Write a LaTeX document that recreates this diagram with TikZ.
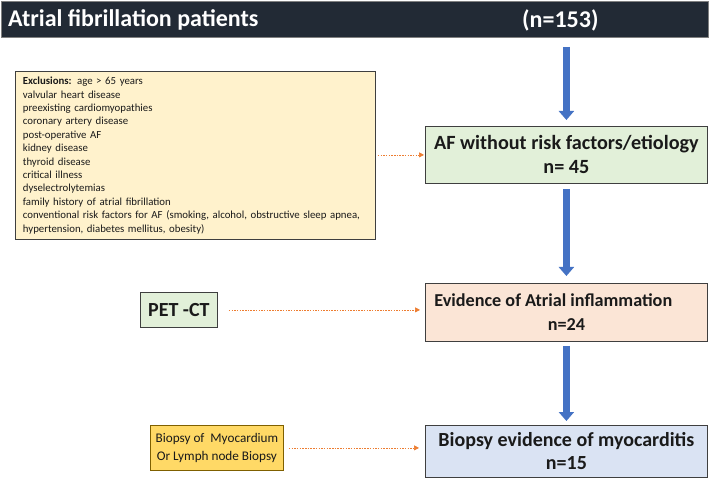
\documentclass[tikz,border=0pt]{standalone}
\usepackage{fontspec}
\setmainfont{Carlito}
\usetikzlibrary{arrows.meta}
\definecolor{barfill}{HTML}{222A35}
\definecolor{excfill}{HTML}{FFF2CC}
\definecolor{grnfill}{HTML}{E2F0D9}
\definecolor{pchfill}{HTML}{FBE5D6}
\definecolor{blufill}{HTML}{DAE3F3}
\definecolor{ylwfill}{HTML}{FFD966}
\definecolor{ylwdraw}{HTML}{7F6000}
\definecolor{arrblue}{HTML}{4472C4}
\definecolor{dotorange}{HTML}{ED7D31}
\definecolor{txt}{HTML}{1A1A1A}
\definecolor{boxdraw}{HTML}{3F3F3F}
\tikzset{
  flowbox/.style={draw=boxdraw, line width=0.8bp, text=txt, align=center, inner sep=0pt, anchor=north west},
  bigarrow/.style={draw=arrblue, line width=6.5bp, -{Triangle[width=15bp,length=9bp]}},
  dotarrow/.style={draw=dotorange, line width=0.7bp, dash pattern=on 1.5bp off 1.2bp, -{Triangle[width=5bp,length=5bp]}}
}
\begin{document}
\begin{tikzpicture}[x=1bp,y=-1bp]
\useasboundingbox (0,0) rectangle (709,480);
\fill[white] (0,0) rectangle (709,480);
% top bar
\node[draw=gray, fill=barfill, line width=1bp, minimum width=707bp, minimum height=36bp, inner sep=0pt, anchor=north west] (bar) at (1,1) {};
\node[text=white, font=\fontsize{24bp}{28bp}\selectfont\bfseries, anchor=west, inner sep=0pt] (bartitle) at (8,20) {Atrial fibrillation patients};
\node[text=white, font=\fontsize{24bp}{28bp}\selectfont\bfseries, anchor=west, inner sep=0pt] (barn) at (522,20) {(n=153)};
% exclusions
\node[draw=boxdraw, fill=excfill, line width=0.8bp, anchor=north west, minimum width=356bp, minimum height=168bp, text width=345bp, inner xsep=7.5bp, inner ysep=0pt, align=left, text=txt, font=\fontsize{10.8bp}{13.4bp}\selectfont] (excl) at (15,71) {\textbf{Exclusions:} age > 65 years\\
valvular heart disease\\
preexisting cardiomyopathies\\
coronary artery disease\\
post-operative AF\\
kidney disease\\
thyroid disease\\
critical illness\\
dyselectrolytemias\\
family history of atrial fibrillation\\
conventional risk factors for AF (smoking, alcohol, obstructive sleep apnea,\\
hypertension, diabetes mellitus, obesity)};
% right column boxes
\node[flowbox, fill=grnfill, minimum width=282bp, minimum height=57bp, font=\fontsize{20.2bp}{24bp}\selectfont\bfseries] (af) at (425,126) {AF without risk factors/etiology\\n= 45};
\node[flowbox, fill=pchfill, minimum width=282bp, minimum height=58bp, font=\fontsize{18.2bp}{24bp}\selectfont\bfseries] (evid) at (425,283) {\makebox[264bp][l]{Evidence of Atrial inflammation}\\n=24};
\node[flowbox, fill=blufill, minimum width=282bp, minimum height=52bp, font=\fontsize{20bp}{23bp}\selectfont\bfseries] (biop) at (425,425) {Biopsy evidence of myocarditis\\n=15};
% left boxes
\node[flowbox, fill=grnfill, minimum width=77bp, minimum height=35bp, font=\fontsize{20bp}{22bp}\selectfont\bfseries] (pet) at (140,292) {PET -CT};
\node[flowbox, draw=ylwdraw, fill=ylwfill, minimum width=133bp, minimum height=45bp, font=\fontsize{13.2bp}{17.5bp}\selectfont] (bx) at (150,425) {Biopsy of\ \ Myocardium\\Or Lymph node Biopsy};
% blue arrows
\draw[bigarrow, shorten <=9bp, shorten >=6bp] (bar.south -| af.north) -- (af.north);
\draw[bigarrow, shorten <=5bp, shorten >=7bp] (af.south) -- (evid.north);
\draw[bigarrow, shorten <=4bp, shorten >=4bp] (evid.south) -- (biop.north);
% dotted arrows
\draw[dotarrow, shorten <=2bp, shorten >=1bp] (excl.east |- af.west) -- (af.west);
\draw[dotarrow, shorten <=11bp, shorten >=5bp] (pet.east) -- (pet.east -| evid.west);
\draw[dotarrow, shorten <=5bp, shorten >=6bp] (bx.east) -- (bx.east -| biop.west);
\end{tikzpicture}
\end{document}
